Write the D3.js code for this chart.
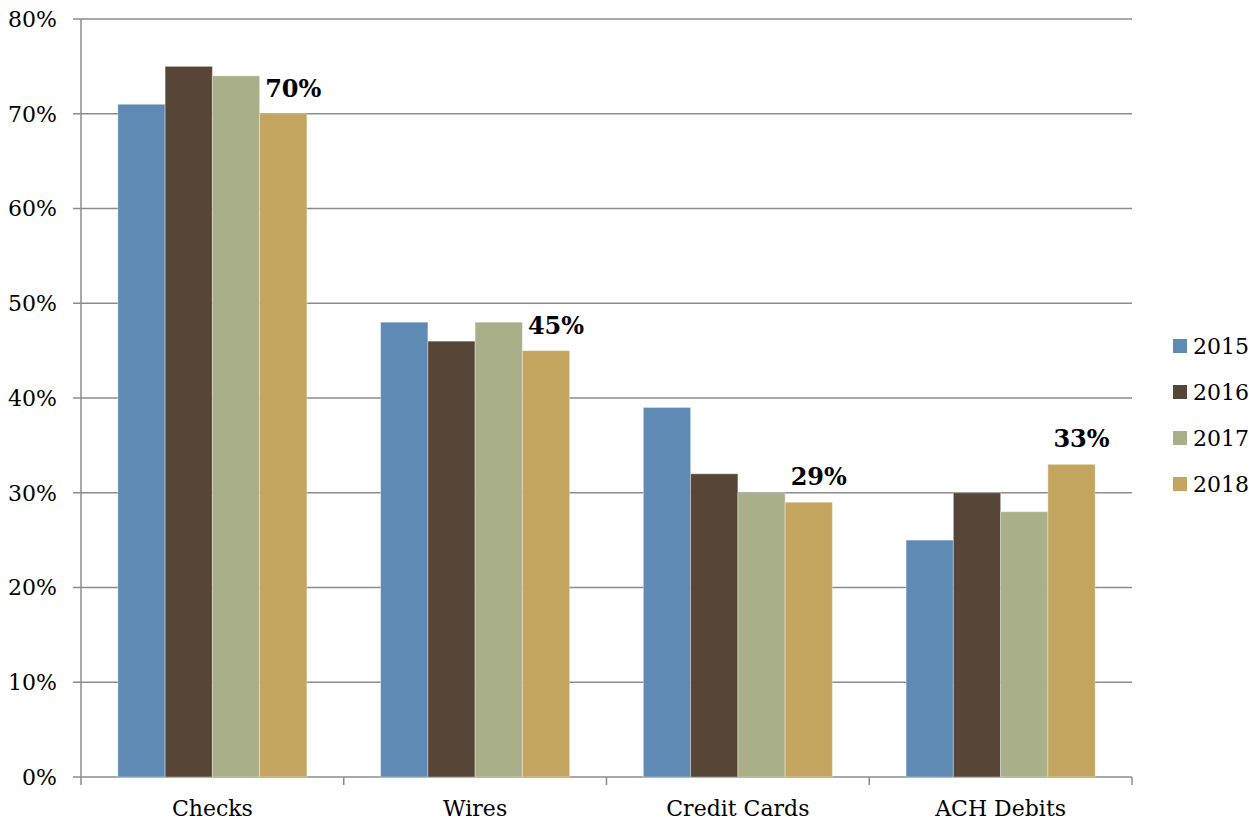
<!DOCTYPE html>
<html>
<head>
<meta charset="utf-8">
<script src="https://cdn.jsdelivr.net/npm/d3@7"></script>
<style>
  body { margin: 0; background: #fff; }
  svg { display: block; }
</style>
</head>
<body>
<div id="chart"></div>
<script>
// data
const categories = ["Checks", "Wires", "Credit Cards", "ACH Debits"];
const years = ["2015", "2016", "2017", "2018"];
const v2015 = [71, 48, 39, 25];
const v2016 = [75, 46, 32, 30];
const v2017 = [74, 48, 30, 28];
const v2018 = [70, 45, 29, 33];
const yTicks = [0, 10, 20, 30, 40, 50, 60, 70, 80];

const series = [v2015, v2016, v2017, v2018];
const colors = ["#5F8AB4", "#574537", "#A9AF88", "#C4A55F"];

const width = 1249, height = 821;
const margin = {top: 19, right: 117, bottom: 44, left: 81};
const font = "'DejaVu Serif', Georgia, serif";

const svg = d3.select("#chart").append("svg")
    .attr("width", width)
    .attr("height", height)
    .style("font-family", font);

const x0 = d3.scaleBand()
    .domain(categories)
    .range([margin.left, width - margin.right])
    .paddingInner(0)
    .paddingOuter(0);

const x1 = d3.scaleBand()
    .domain(years)
    .range([0, x0.bandwidth()])
    .paddingInner(0)
    .paddingOuter(0.78);

const y = d3.scaleLinear()
    .domain([0, 80])
    .range([height - margin.bottom, margin.top]);

// gridlines
svg.append("g")
    .selectAll("line")
    .data(yTicks)
    .join("line")
    .attr("x1", margin.left - 8)
    .attr("x2", width - margin.right)
    .attr("y1", d => y(d))
    .attr("y2", d => y(d))
    .attr("stroke", "#8c8c8c")
    .attr("stroke-width", 1.5);

// y labels
svg.append("g")
    .selectAll("text")
    .data(yTicks)
    .join("text")
    .attr("x", 57)
    .attr("y", d => y(d))
    .attr("dy", "0.36em")
    .attr("text-anchor", "end")
    .style("font-size", "22px")
    .text(d => d + "%");

// bars
const groups = svg.append("g")
    .selectAll("g")
    .data(categories)
    .join("g")
    .attr("transform", d => `translate(${x0(d)},0)`);

groups.selectAll("rect")
    .data((c, i) => years.map((yr, j) => ({year: yr, value: series[j][i], color: colors[j]})))
    .join("rect")
    .attr("x", d => x1(d.year))
    .attr("y", d => y(d.value))
    .attr("width", x1.bandwidth())
    .attr("height", d => y(0) - y(d.value))
    .attr("fill", d => d.color)
    .attr("stroke", "rgba(255,255,255,0.35)")
    .attr("stroke-width", 1);

// labels on 2018 bars
groups.append("text")
    .attr("x", (c, i) => x1("2018") + x1.bandwidth() / 2 + 10)
    .attr("y", (c, i) => y(v2018[i]) - 17)
    .attr("text-anchor", "middle")
    .style("font-size", "24px")
    .style("font-weight", "bold")
    .text((c, i) => v2018[i] + "%");

// axes lines
svg.append("line")
    .attr("x1", margin.left).attr("x2", margin.left)
    .attr("y1", margin.top).attr("y2", y(0) + 8)
    .attr("stroke", "#8c8c8c").attr("stroke-width", 1.5);

const bounds = categories.map(c => x0(c)).concat([x0.range()[1]]);
svg.append("g")
    .selectAll("line")
    .data(bounds.slice(1))
    .join("line")
    .attr("x1", d => d).attr("x2", d => d)
    .attr("y1", y(0)).attr("y2", y(0) + 8)
    .attr("stroke", "#8c8c8c").attr("stroke-width", 1.5);

// category labels
svg.append("g")
    .selectAll("text")
    .data(categories)
    .join("text")
    .attr("x", d => x0(d) + x0.bandwidth() / 2)
    .attr("y", 816)
    .attr("text-anchor", "middle")
    .style("font-size", "22px")
    .text(d => d);

// legend
const legend = svg.append("g")
    .selectAll("g")
    .data(years)
    .join("g")
    .attr("transform", (d, i) => `translate(1173,${346 + i * 46})`);

legend.append("rect")
    .attr("x", 0).attr("y", -7)
    .attr("width", 14).attr("height", 14)
    .attr("fill", (d, i) => colors[i]);

legend.append("text")
    .attr("x", 20)
    .attr("y", 0)
    .attr("dy", "0.36em")
    .style("font-size", "22px")
    .text(d => d);
</script>
</body>
</html>
